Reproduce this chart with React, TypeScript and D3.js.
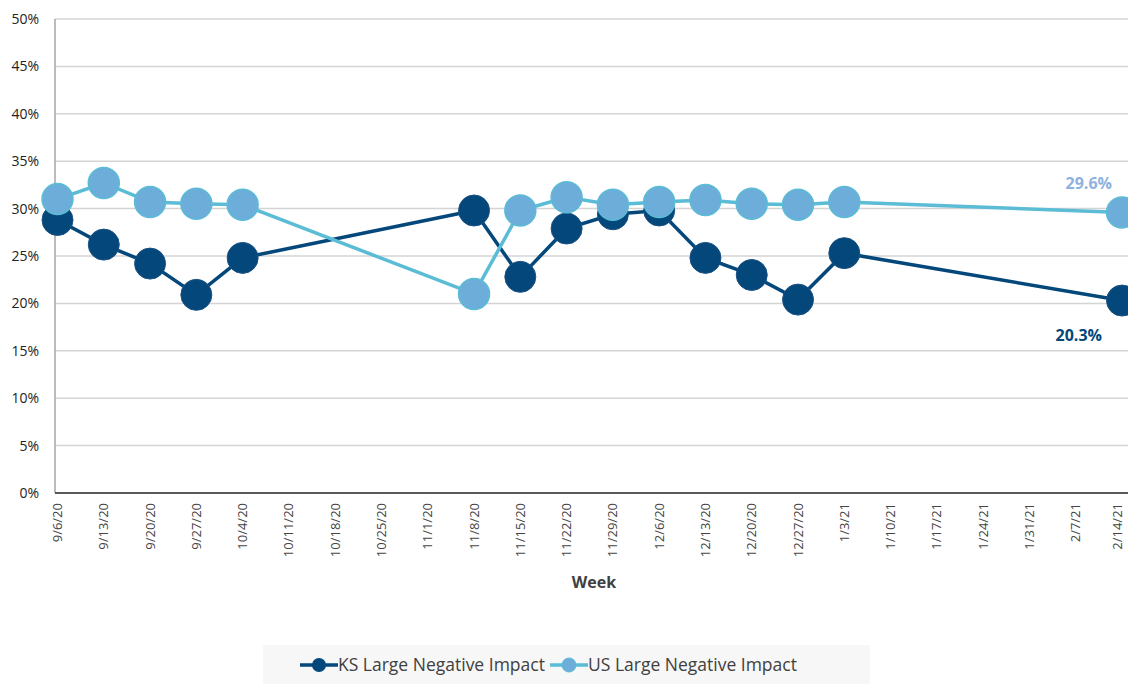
import React from "react";
import * as d3 from "d3";

const weeks = ["9/6/20","9/13/20","9/20/20","9/27/20","10/4/20","10/11/20","10/18/20","10/25/20","11/1/20","11/8/20","11/15/20","11/22/20","11/29/20","12/6/20","12/13/20","12/20/20","12/27/20","1/3/21","1/10/21","1/17/21","1/24/21","1/31/21","2/7/21","2/14/21"];
const ksValues: (number | null)[] = [28.8,26.2,24.2,20.9,24.8,null,null,null,null,29.8,22.8,27.9,29.4,29.8,24.8,23.0,20.4,25.3,null,null,null,null,null,20.3];
const usValues: (number | null)[] = [31.0,32.7,30.7,30.5,30.4,null,null,null,null,21.0,29.8,31.2,30.4,30.7,30.9,30.5,30.4,30.7,null,null,null,null,null,29.6];
const yTicks = [0,5,10,15,20,25,30,35,40,45,50];
const seriesNames = ["KS Large Negative Impact","US Large Negative Impact"];

const W = 1128, H = 690;
const FONT = "'Open Sans', sans-serif";

export default function App() {
  const x = d3.scalePoint<string>().domain(weeks).range([57.5, 1122]);
  const y = d3.scaleLinear().domain([0, 50]).range([493, 19]);

  const mk = (vals: (number | null)[]) =>
    weeks.map((w, i) => ({ w, v: vals[i] })).filter(d => d.v !== null) as { w: string; v: number }[];
  const ks = mk(ksValues);
  const us = mk(usValues);
  const line = d3.line<{ w: string; v: number }>().x(d => x(d.w)!).y(d => y(d.v));

  const ksColor = "#03477B";
  const usLine = "#5BBCD6";
  const usFill = "#6CADD9";
  const r = 15.5;

  const lastKs = ks[ks.length - 1];
  const lastUs = us[us.length - 1];

  return (
    <svg width={W} height={H} style={{ position: "absolute", left: 0, top: 0, background: "#fff" }} fontFamily={FONT}>
      {yTicks.map(t => (
        <g key={t}>
          {t > 0 && <line x1={55} x2={W} y1={y(t)} y2={y(t)} stroke="#D4D4D4" strokeWidth={1.5} />}
          <text x={39} y={y(t) + 5} textAnchor="end" fontSize={14} fill="#222">{t}%</text>
        </g>
      ))}
      <line x1={55} x2={55} y1={y(50)} y2={y(0)} stroke="#A6A6A6" strokeWidth={1.5} />
      <line x1={55} x2={W} y1={y(0)} y2={y(0)} stroke="#595959" strokeWidth={2.2} />
      {weeks.map(w => (
        <text key={w} transform={`translate(${Math.min(x(w)! + 4.5, 1122)},503) rotate(-90)`} textAnchor="end" fontSize={13} fill="#444">{w}</text>
      ))}
      <text x={594} y={588} textAnchor="middle" fontSize={16} fontWeight="bold" fill="#404040">Week</text>

      <path d={line(ks)!} fill="none" stroke={ksColor} strokeWidth={3.5} />
      {ks.map(d => (
        <circle key={"k" + d.w} cx={x(d.w)} cy={y(d.v)} r={r} fill={ksColor} stroke="#1C5283" strokeWidth={1} />
      ))}
      <path d={line(us)!} fill="none" stroke={usLine} strokeWidth={3.5} />
      {us.map(d => (
        <circle key={"u" + d.w} cx={x(d.w)} cy={y(d.v)} r={r} fill={usFill} stroke={usLine} strokeWidth={1.5} />
      ))}

      <text x={x(lastUs.w)! - 10} y={y(lastUs.v) - 23} textAnchor="end" fontSize={16} fontWeight="bold" fill="#8EB1DF">{lastUs.v.toFixed(1)}%</text>
      <text x={x(lastKs.w)! - 20} y={y(lastKs.v) + 40} textAnchor="end" fontSize={16} fontWeight="bold" fill={ksColor}>{lastKs.v.toFixed(1)}%</text>

      <rect x={263} y={645} width={607} height={39} fill="#F7F7F7" />
      <g>
        <line x1={300} x2={338} y1={665} y2={665} stroke={ksColor} strokeWidth={3.5} />
        <circle cx={319} cy={665} r={7} fill={ksColor} />
        <text x={338} y={671} fontSize={17.5} fill="#404040">{seriesNames[0]}</text>
        <line x1={550} x2={588} y1={665} y2={665} stroke={usLine} strokeWidth={3.5} />
        <circle cx={569} cy={665} r={7} fill={usFill} stroke={usLine} strokeWidth={1} />
        <text x={588} y={671} fontSize={17.5} fill="#404040">{seriesNames[1]}</text>
      </g>
    </svg>
  );
}
